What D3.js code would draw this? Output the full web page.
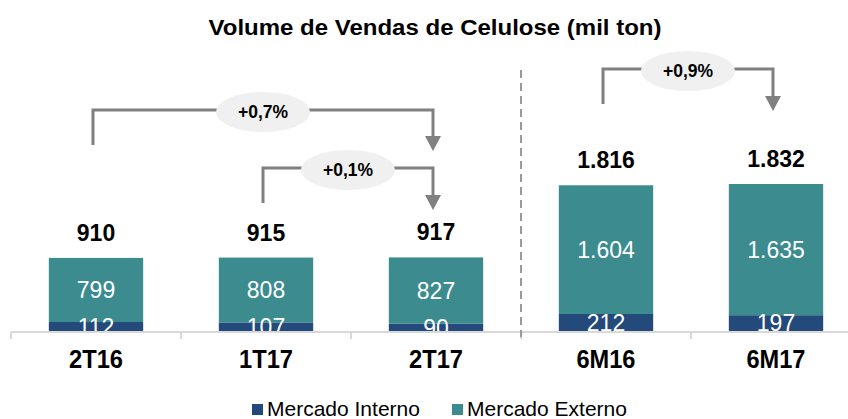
<!DOCTYPE html>
<html>
<head>
<meta charset="utf-8">
<script src="https://cdn.jsdelivr.net/npm/d3@7"></script>
<style>
  body { margin: 0; background: #fff; }
  svg { display: block; font-family: "Liberation Sans", Arial, sans-serif; }
</style>
</head>
<body>
<div id="chart"></div>
<script>
// data
var categories = ["2T16", "1T17", "2T17", "6M16", "6M17"];
var interno = [112, 107, 90, 212, 197];
var externo = [799, 808, 827, 1604, 1635];
var totals = ["910", "915", "917", "1.816", "1.832"];
var internoLabels = ["112", "107", "90", "212", "197"];
var externoLabels = ["799", "808", "827", "1.604", "1.635"];
var seriesNames = ["Mercado Interno", "Mercado Externo"];
var variations = [
  { from: "2T16", to: "2T17", label: "+0,7%", level: 110, left: 145, tip: 151 },
  { from: "1T17", to: "2T17", label: "+0,1%", level: 168, left: 203, tip: 210 },
  { from: "6M16", to: "6M17", label: "+0,9%", level: 69, left: 104, tip: 111 }
];

var width = 848, height = 419;
var colors = ["#24497b", "#3b8b8f"];

var svg = d3.select("#chart").append("svg")
  .attr("width", width)
  .attr("height", height);

var x = d3.scaleBand()
  .domain(categories)
  .range([11, 861])
  .paddingInner(0.445)
  .paddingOuter(0.2225);

var y = d3.scaleLinear()
  .domain([0, 1832])
  .range([331, 184]);

// title
svg.append("text")
  .attr("x", 435)
  .attr("y", 35)
  .attr("text-anchor", "middle")
  .attr("font-weight", "bold")
  .attr("font-size", 22)
  .attr("textLength", 453)
  .attr("lengthAdjust", "spacingAndGlyphs")
  .attr("fill", "#000")
  .text("Volume de Vendas de Celulose (mil ton)");

// bars
var rows = categories.map(function (c, i) {
  return { cat: c, interno: interno[i], externo: externo[i] };
});
var stacked = d3.stack().keys(["interno", "externo"])(rows);

var layers = svg.append("g").selectAll("g")
  .data(stacked)
  .enter().append("g")
  .attr("fill", function (d, i) { return colors[i]; });

layers.selectAll("rect")
  .data(function (d) { return d; })
  .enter().append("rect")
  .attr("x", function (d) { return x(d.data.cat); })
  .attr("width", x.bandwidth())
  .attr("y", function (d) { return y(d[1]); })
  .attr("height", function (d) { return y(d[0]) - y(d[1]); });

// segment labels (white), clipped at the baseline
svg.append("clipPath").attr("id", "plotClip")
  .append("rect").attr("x", 0).attr("y", 0).attr("width", width).attr("height", y(0));

var segLabels = svg.append("g").attr("clip-path", "url(#plotClip)");
stacked.forEach(function (layer, li) {
  var labels = li === 0 ? internoLabels : externoLabels;
  segLabels.selectAll(".seg" + li)
    .data(layer)
    .enter().append("text")
    .attr("class", "seg" + li)
    .attr("x", function (d) { return x(d.data.cat) + x.bandwidth() / 2; })
    .attr("y", function (d) { return (y(d[0]) + y(d[1])) / 2; })
    .attr("dy", "0.36em")
    .attr("text-anchor", "middle")
    .attr("font-size", 23)
    .attr("fill", "#fff")
    .text(function (d, i) { return labels[i]; });
});

// totals
svg.append("g").selectAll("text")
  .data(rows)
  .enter().append("text")
  .attr("x", function (d) { return x(d.cat) + x.bandwidth() / 2; })
  .attr("y", function (d) { return y(d.interno + d.externo) - 17; })
  .attr("text-anchor", "middle")
  .attr("font-weight", "bold")
  .attr("font-size", 23)
  .attr("fill", "#000")
  .text(function (d, i) { return totals[i]; });

// axis
var step = x.step();
var axisG = svg.append("g").attr("stroke", "#d9d9d9").attr("stroke-width", 2);
axisG.append("line")
  .attr("x1", 11).attr("x2", width)
  .attr("y1", y(0) + 1).attr("y2", y(0) + 1);
axisG.selectAll(".tick")
  .data(categories)
  .enter().append("line")
  .attr("x1", function (d) { return x(d) + x.bandwidth() / 2 - step / 2; })
  .attr("x2", function (d) { return x(d) + x.bandwidth() / 2 - step / 2; })
  .attr("y1", y(0) + 1).attr("y2", y(0) + 8);

svg.append("g").selectAll("text")
  .data(categories)
  .enter().append("text")
  .attr("x", function (d) { return x(d) + x.bandwidth() / 2; })
  .attr("y", 368)
  .attr("text-anchor", "middle")
  .attr("font-weight", "bold")
  .attr("font-size", 25)
  .attr("textLength", function (d) { return d.indexOf("M") > 0 ? 59 : 54; })
  .attr("lengthAdjust", "spacingAndGlyphs")
  .attr("fill", "#000")
  .text(function (d) { return d; });

// dashed separator
var sepX = x("6M16") + x.bandwidth() / 2 - step / 2;
svg.append("line")
  .attr("x1", sepX).attr("x2", sepX)
  .attr("y1", 70).attr("y2", y(0) + 6)
  .attr("stroke", "#9a9a9a")
  .attr("stroke-width", 2)
  .attr("stroke-dasharray", "8,5");

// variation brackets
var bracketG = svg.append("g");
variations.forEach(function (v) {
  var x1 = x(v.from) + x.bandwidth() / 2 - 3;
  var x2 = x(v.to) + x.bandwidth() / 2 - 3;
  bracketG.append("path")
    .attr("d", "M" + x1 + "," + v.left + "V" + v.level + "H" + x2 + "V" + (v.tip - 14))
    .attr("fill", "none")
    .attr("stroke", "#808080")
    .attr("stroke-width", 3);
  bracketG.append("path")
    .attr("d", "M" + (x2 - 8) + "," + (v.tip - 15) + "L" + (x2 + 8) + "," + (v.tip - 15) + "L" + x2 + "," + v.tip + "Z")
    .attr("fill", "#808080");
  var cx = (x1 + x2) / 2;
  bracketG.append("ellipse")
    .attr("cx", cx).attr("cy", v.level + 2)
    .attr("rx", 47).attr("ry", 20)
    .attr("fill", "#f0f0f0");
  bracketG.append("text")
    .attr("x", cx).attr("y", v.level + 2)
    .attr("dy", "0.36em")
    .attr("text-anchor", "middle")
    .attr("font-weight", "bold")
    .attr("font-size", 17.5)
    .attr("fill", "#000")
    .text(v.label);
});

// legend
var legend = svg.append("g").attr("transform", "translate(252,404)");
var lx = [0, 200];
seriesNames.forEach(function (name, i) {
  var g = legend.append("g").attr("transform", "translate(" + lx[i] + ",0)");
  g.append("rect").attr("width", 11).attr("height", 11).attr("fill", colors[i]);
  g.append("text")
    .attr("x", 15).attr("y", 12)
    .attr("font-size", 21)
    .attr("fill", "#000")
    .text(name);
});
</script>
</body>
</html>
